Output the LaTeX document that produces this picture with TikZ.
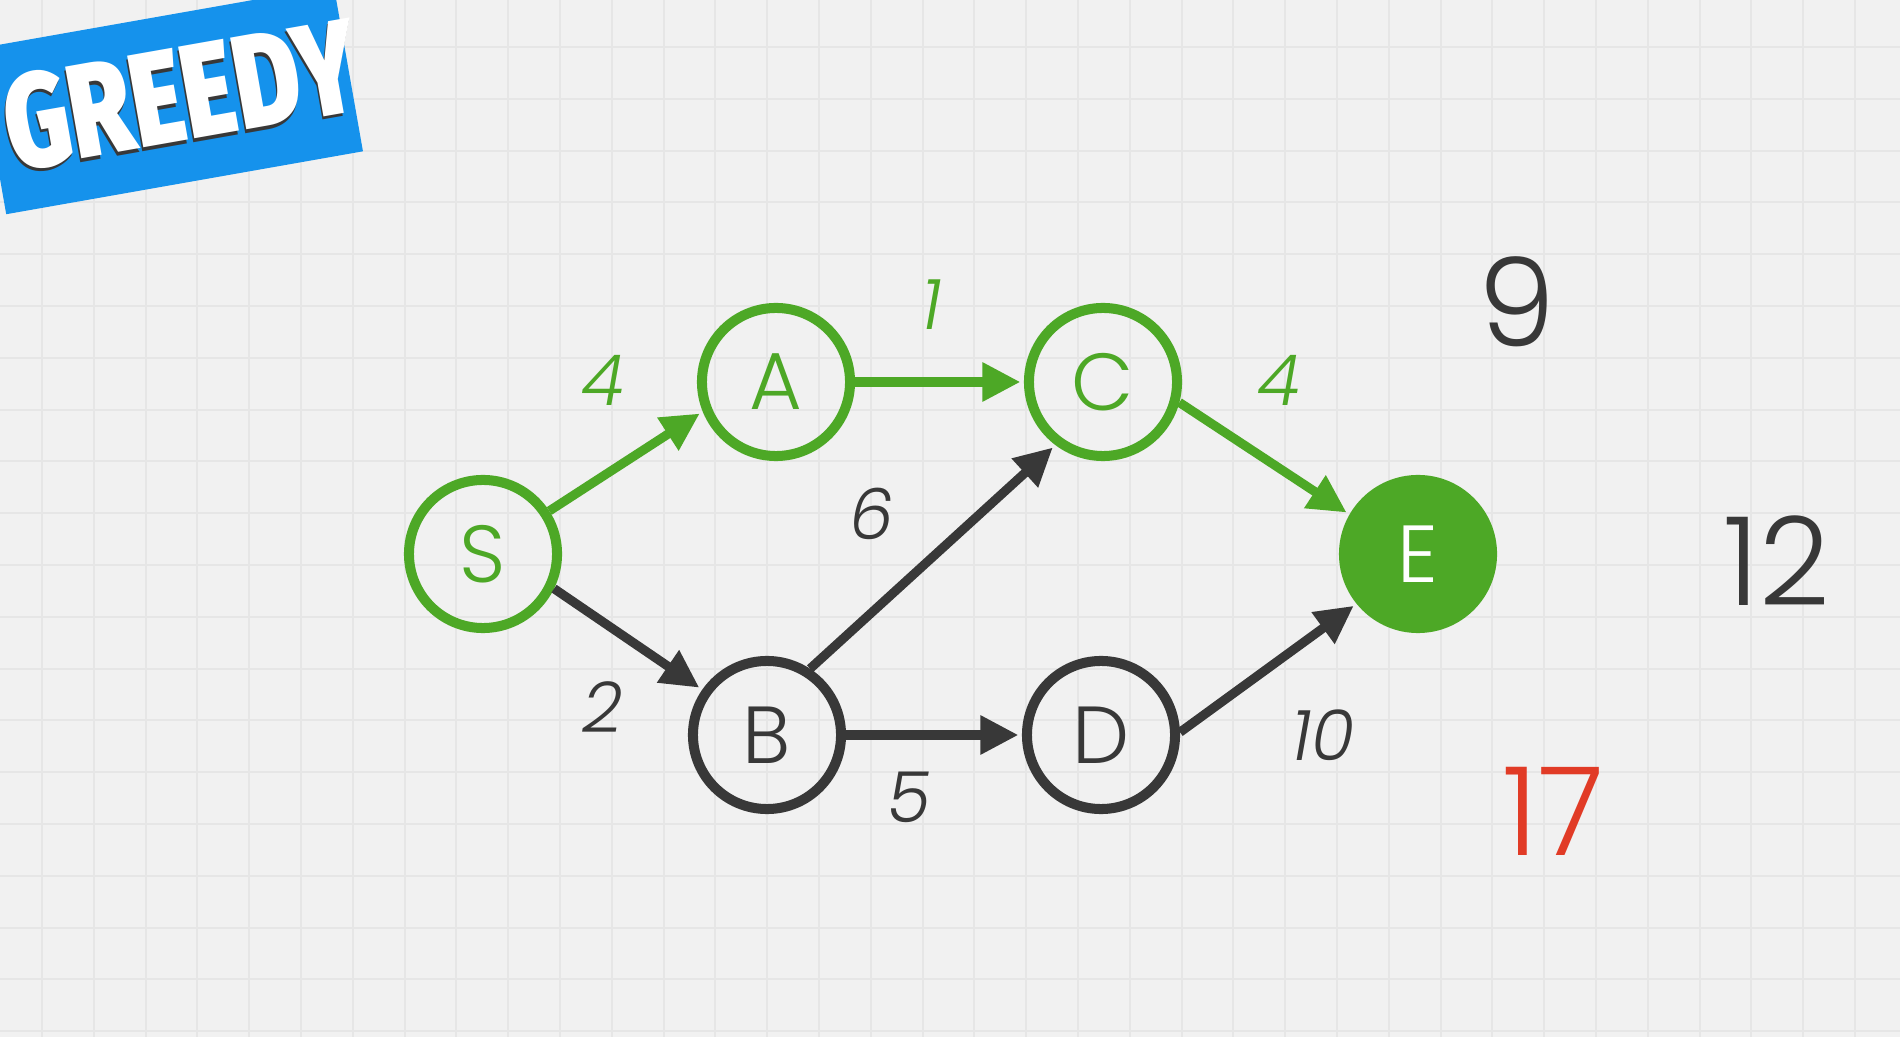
\documentclass[tikz,border=0pt]{standalone}
\usepackage{fontspec}
\IfFontExistsTF{Poppins Light}{%
	\IfFontExistsTF{Poppins Light Italic}%
		{\setmainfont{Poppins Light}[ItalicFont={Poppins Light Italic}]}%
		{\setmainfont{Poppins Light}}}%
	{\setmainfont{Poppins}}
\IfFontExistsTF{Fira Sans Black}%
	{\newfontfamily\tagfont{Fira Sans Black}\newcommand\tagsquash{0.75}}%
	{\newfontfamily\tagfont{Fira Sans}[UprightFont=* Bold]\newcommand\tagsquash{0.77}}
\usetikzlibrary{arrows.meta, calc}
\definecolor{greenish}{HTML}{4DA826}
\definecolor{darkgr}{HTML}{383838}
\definecolor{redish}{HTML}{E13B26}
\definecolor{tagblue}{HTML}{1592EC}
\definecolor{paper}{HTML}{F1F1F1}
\definecolor{gridline}{HTML}{E6E6E6}
% white word with a dark edge under it
\newcommand\shadedword[1]{\rlap{\kern-0.6pt\raisebox{-0.9pt}{\textcolor{darkgr}{#1}}}#1}

\begin{document}
\begin{tikzpicture}[x=0.01cm, y=-0.01cm,
	vtx/.style={circle, draw=darkgr, line width=2.85pt, minimum size=1.48cm, inner sep=0pt, text=darkgr, font=\fontsize{23}{23}\selectfont},
	done/.style={vtx, draw=greenish, text=greenish},
	goal/.style={vtx, draw=greenish, fill=greenish, text=white},
	link/.style={-{Triangle[length=10.8pt, width=10.5pt]}, line width=2.6pt, draw=darkgr, shorten >=1pt},
	wt/.style={font=\fontsize{20}{20}\selectfont\itshape, text=darkgr},
	cost/.style={font=\fontsize{35}{35}\selectfont, text=darkgr},
	tag/.style={rectangle, rotate=10, fill=tagblue, minimum width=3.62cm, minimum height=1.68cm, inner sep=0pt},
	tagword/.style={rotate=10, inner sep=0pt, text=white, font=\tagfont\fontsize{38}{38}\selectfont}]
	\useasboundingbox (0,0) rectangle (1900,1037);
	\clip (0,0) rectangle (1900,1037);
	% paper and grid
	\fill[paper] (0,0) rectangle (1900,1037);
	\foreach \gx in {0,...,36} \draw[gridline, line width=0.6pt] ({42+51.8*\gx},0) -- ++(0,1037);
	\foreach \gy in {0,...,19} \draw[gridline, line width=0.6pt] (0,{47+51.8*\gy}) -- ++(1900,0);
	% banner
	\node[tag] (banner) at (170,100) {};
	\node[tagword] (bannertext) at ($(banner.center)+(11,-4)$) {\scalebox{\tagsquash}[1]{\shadedword{GREEDY}}};
	% graph
	\node[done] (S) at (483,554) {S};
	\node[done] (A) at (776,382) {A};
	\node[done] (C) at (1103,382) {C};
	\node[vtx] (B) at (767,735) {B};
	\node[vtx] (D) at (1101,735) {D};
	\node[goal] (E) at (1418,554) {E};
	\draw[link, draw=greenish] (S.33) -- (A.202);
	\draw[link, draw=greenish] (A) -- (C);
	\draw[link, draw=greenish] (C.-15) -- (E.150);
	\draw[link] (S.-26) -- (B.145);
	\draw[link] (B.57) -- (C.233);
	\draw[link] (B) -- (D);
	\draw[link] (D.2) -- (E.219);
	% weights
	\node[wt, text=greenish] (wSA) at (603,380) {4};
	\node[wt, text=greenish] (wAC) at (932,305) {1};
	\node[wt, text=greenish] (wCE) at (1279,380) {4};
	\node[wt] (wBC) at (872,514) {6};
	\node[wt] (wSB) at (603,707) {2};
	\node[wt] (wBD) at (909,797) {5};
	\node[wt] (wDE) at (1323,735) {10};
	% path totals
	\node[cost] (top) at (1517,302) {9};
	\node[cost] (mid) at (1777,561) {12};
	\node[cost, text=redish] (low) at (1553,811) {17};
\end{tikzpicture}
\end{document}
